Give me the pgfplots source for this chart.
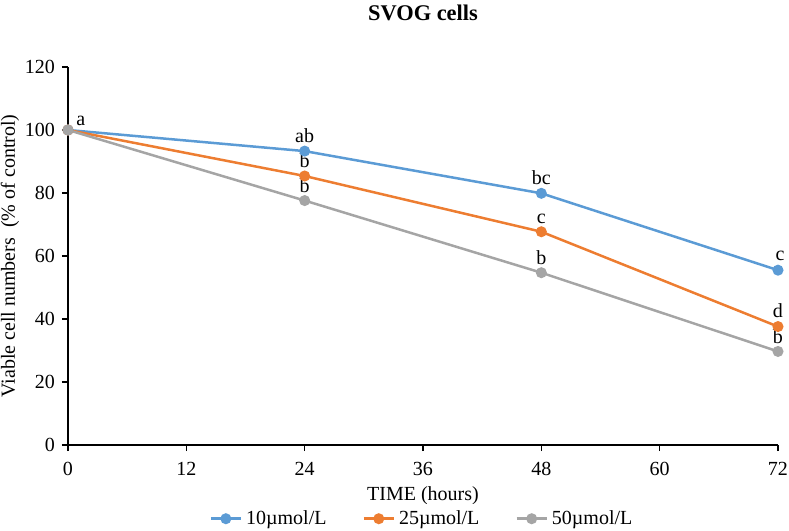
\documentclass[border=0pt]{standalone}
\usepackage{fontspec}
\setmainfont{Liberation Serif}
\usepackage{pgfplots}
\pgfplotsset{compat=1.18}
\usetikzlibrary{calc}
\definecolor{cblue}{HTML}{5B9BD5}
\definecolor{corange}{HTML}{ED7D31}
\definecolor{cgray}{HTML}{A5A5A5}
\begin{document}
\fontsize{10pt}{12pt}\selectfont
\begin{tikzpicture}
\begin{axis}[
  scale only axis,
  width=355pt, height=189pt,
  xmin=0, xmax=72, ymin=0, ymax=120,
  xtick={0,12,24,36,48,60,72},
  ytick={0,20,40,60,80,100,120},
  axis x line*=bottom, axis y line*=left,
  axis line style={black, line width=0.6pt},
  tick style={black, line width=0.6pt},
  tick align=outside, major tick length=3pt,
  /pgf/number format/assume math mode=true,
  tick label style={font=\fontsize{10pt}{12pt}\selectfont},
  xticklabel style={yshift=-2pt},
  xlabel={TIME (hours)},
  ylabel={Viable cell numbers\ \ (\% of control)},
  xlabel style={font=\fontsize{10pt}{12pt}\selectfont, at={(axis description cs:0.5,-0.135)}, anchor=center},
  ylabel style={font=\fontsize{10pt}{12pt}\selectfont, at={(axis description cs:-0.0817,0.5)}, anchor=center},
  title={\textbf{SVOG cells}},
  title style={font=\fontsize{11.2pt}{13pt}\selectfont, at={(axis description cs:0.5,1.111)}, anchor=center},
  legend style={at={(axis description cs:0.5,-0.195)}, anchor=center, draw=none, legend columns=3,
    font=\fontsize{10pt}{12pt}\selectfont, inner sep=1pt,
    /tikz/every even column/.append style={column sep=16pt}},
  legend image code/.code={
    \draw[#1, mark repeat=2, mark phase=2] plot coordinates {(0pt,0pt) (7.5pt,0pt) (15pt,0pt)};},
  every axis plot/.append style={line width=1.25pt, mark=*, mark size=2.1pt},
  clip=false,
]
\addplot[color=cblue, mark options={fill=cblue, draw=cblue}] coordinates {(0,100) (24,93.3) (48,79.9) (72,55.5)};
\addlegendentry{10µmol/L}
\addplot[color=corange, mark options={fill=corange, draw=corange}] coordinates {(0,100) (24,85.4) (48,67.7) (72,37.6)};
\addlegendentry{25µmol/L}
\addplot[color=cgray, mark options={fill=cgray, draw=cgray}] coordinates {(0,100) (24,77.6) (48,54.7) (72,29.7)};
\addlegendentry{50µmol/L}
\node[anchor=south west, inner sep=1pt] at (axis cs:0.6,100.5) {a};
\node[anchor=south, inner sep=1pt] at (axis cs:24,95.3) {ab};
\node[anchor=south, inner sep=1pt] at (axis cs:24,87.2) {b};
\node[anchor=south, inner sep=1pt] at (axis cs:24,79.4) {b};
\node[anchor=south, inner sep=1pt] at (axis cs:48,82.0) {bc};
\node[anchor=south, inner sep=1pt] at (axis cs:48,69.6) {c};
\node[anchor=south, inner sep=1pt] at (axis cs:48,56.6) {b};
\node[anchor=south, inner sep=1pt] at (axis cs:72.2,57.6) {c};
\node[anchor=south, inner sep=1pt] at (axis cs:72,39.6) {d};
\node[anchor=south, inner sep=1pt] at (axis cs:72,31.4) {b};
\coordinate (LL) at (axis cs:0,0);
\coordinate (UR) at (axis cs:72,120);
\end{axis}
\pgfresetboundingbox
\path[use as bounding box] ($(LL)+(-34pt,-42.5pt)$) rectangle ($(UR)+(5.5pt,33.5pt)$);
\end{tikzpicture}
\end{document}
